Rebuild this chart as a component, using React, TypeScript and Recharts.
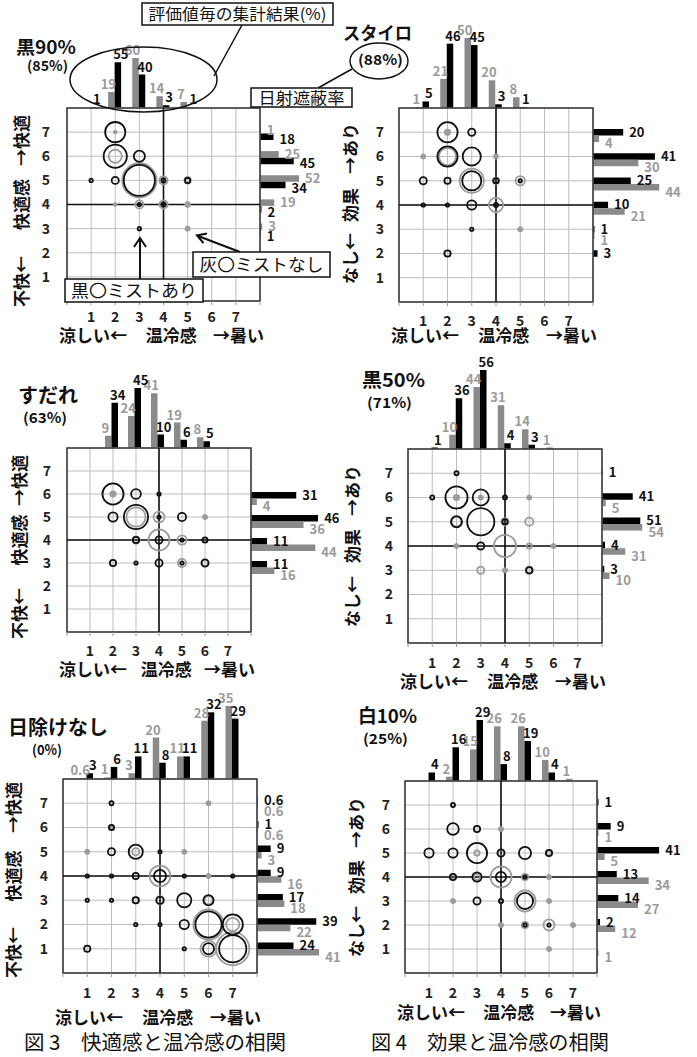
import React from 'react';
import {
  BarChart,
  Bar,
  XAxis,
  YAxis,
  ZAxis,
  ScatterChart,
  Scatter,
  CartesianGrid,
  ReferenceLine,
  ReferenceArea,
  LabelList,
} from 'recharts';

const FONT = "'Noto Sans CJK JP', 'Noto Sans', sans-serif";
const GRAY_BAR = '#8a8a8a';
const GRAY_TEXT = '#9a9a9a';
const GRAY_DOT = '#9c9c9c';

const LEVELS = [1, 2, 3, 4, 5, 6, 7];
const TICKS = [0, 1, 2, 3, 4, 5, 6, 7, 8];

// 温冷感の集計結果 (%), index = 評価値 1..7  (灰: ミストなし / 黒: ミストあり)
const k90TempGray = [0, 19, 60, 14, 7, 0, 0];
const k90TempBlack = [1, 55, 40, 3, 1, 0, 0];
const styroTempGray = [1, 21, 50, 20, 8, 0, 0];
const styroTempBlack = [5, 46, 45, 3, 1, 0, 0];
const sudareTempGray = [0, 9, 24, 41, 19, 8, 0];
const sudareTempBlack = [0, 34, 45, 10, 6, 5, 0];
const k50TempGray = [0, 10, 44, 31, 14, 1, 0];
const k50TempBlack = [1, 36, 56, 4, 3, 0, 0];
const noneTempGray = [0.6, 1, 3, 20, 11, 28, 35];
const noneTempBlack = [3, 6, 11, 8, 11, 32, 29];
const w10TempGray = [0, 2, 15, 26, 26, 10, 1];
const w10TempBlack = [4, 16, 29, 8, 19, 4, 0];

// 快適感 / 効果の集計結果 (%), index = 評価値 1..7
const k90RateGray = [0, 0, 3, 19, 52, 25, 1];
const k90RateBlack = [0, 0, 1, 2, 34, 45, 18];
const styroRateGray = [0, 0, 1, 21, 44, 30, 4];
const styroRateBlack = [0, 3, 1, 10, 25, 41, 20];
const sudareRateGray = [0, 0, 16, 44, 36, 4, 0];
const sudareRateBlack = [0, 0, 11, 11, 46, 31, 0];
const k50RateGray = [0, 0, 10, 31, 54, 5, 0];
const k50RateBlack = [0, 0, 3, 4, 51, 41, 1];
const noneRateGray = [41, 22, 18, 16, 3, 0.6, 0.6];
const noneRateBlack = [24, 39, 17, 9, 9, 1, 0.6];
const w10RateGray = [1, 12, 27, 34, 5, 1, 0];
const w10RateBlack = [0, 2, 14, 13, 41, 9, 1];

// 相関の円: [温冷感, 快適感(効果), %]
const k90BubBlack = [[1, 5, 0.7], [2, 7, 12.7], [2, 6, 16.4], [3, 6, 4.4], [2, 5, 2.1], [3, 5, 28.5], [4, 5, 0.9], [5, 5, 1.3], [3, 4, 0.7], [4, 4, 0.9], [3, 3, 0.7]];
const k90BubGray = [[2, 7, 0.4], [2, 6, 5.9], [3, 5, 34], [4, 5, 2.6], [5, 5, 1.7], [2, 4, 0.4], [3, 4, 2.6], [4, 4, 2.6], [5, 4, 0.9], [5, 3, 0.7]];
const styroBubBlack = [[2, 7, 12.7], [3, 7, 2.1], [2, 6, 12.7], [3, 6, 10.5], [1, 5, 2.1], [2, 5, 1.7], [3, 5, 11.5], [4, 5, 1.3], [5, 5, 0.7], [1, 4, 0.7], [2, 4, 0.7], [3, 4, 3.2], [4, 4, 0.9], [3, 3, 0.7], [2, 2, 1.7]];
const styroBubGray = [[2, 7, 1.1], [1, 6, 0.7], [2, 6, 9.5], [4, 6, 0.7], [3, 5, 17.7], [4, 5, 1.7], [5, 5, 3.2], [4, 4, 6.7], [5, 3, 0.7]];
const sudareBubBlack = [[2, 6, 13.8], [3, 6, 3.5], [4, 6, 0.7], [2, 5, 3.2], [3, 5, 17.7], [4, 5, 0.7], [5, 5, 2.6], [3, 4, 1.7], [4, 4, 2.1], [5, 4, 0.7], [6, 4, 1.3], [2, 3, 1.7], [3, 3, 0.7], [4, 3, 2.1], [5, 3, 0.7], [6, 3, 2.1]];
const sudareBubGray = [[2, 6, 1.1], [3, 5, 11.5], [4, 5, 4.2], [6, 5, 0.7], [3, 4, 2.1], [4, 4, 13.8], [5, 4, 3.2], [5, 3, 2.6], [6, 3, 1.7]];
const k50BubBlack = [[2, 7, 0.9], [1, 6, 0.9], [2, 6, 15], [3, 6, 8.5], [4, 6, 0.9], [2, 5, 4.4], [3, 5, 22], [4, 5, 1.3], [3, 4, 2.1], [5, 3, 1.7]];
const k50BubGray = [[2, 6, 1.1], [3, 6, 0.7], [5, 6, 0.7], [2, 5, 3.2], [4, 5, 2.1], [5, 5, 2.6], [2, 4, 0.7], [4, 4, 15], [5, 4, 1.3], [6, 4, 0.7], [3, 3, 2.1], [4, 3, 0.7], [5, 3, 2.1]];
const noneBubBlack = [[2, 7, 0.9], [2, 6, 1.3], [2, 5, 2.1], [3, 5, 6.7], [4, 5, 0.7], [1, 4, 0.7], [2, 4, 0.7], [3, 4, 1.7], [4, 4, 5.1], [5, 4, 0.7], [7, 4, 0.7], [1, 3, 0.7], [2, 3, 0.7], [3, 3, 1.7], [4, 3, 2.1], [5, 3, 6.7], [6, 3, 3.8], [3, 2, 0.7], [4, 2, 0.7], [5, 2, 3.2], [6, 2, 20.5], [7, 2, 12.7], [1, 1, 1.7], [5, 1, 0.7], [6, 1, 4.4], [7, 1, 22]];
const noneBubGray = [[6, 7, 0.7], [2, 6, 0.9], [1, 5, 0.7], [3, 5, 2.1], [5, 5, 0.7], [4, 4, 13.4], [6, 4, 0.7], [3, 3, 1.7], [4, 3, 2.6], [6, 3, 2.6], [6, 2, 26.8], [7, 2, 5.9], [6, 1, 8.5], [7, 1, 32]];
const w10BubBlack = [[2, 7, 0.9], [2, 6, 4.7], [3, 6, 1.7], [1, 5, 3.2], [2, 5, 3.2], [3, 5, 12.7], [4, 5, 2.1], [5, 5, 5.1], [6, 5, 1.7], [2, 4, 1.7], [3, 4, 3.2], [4, 4, 3.8], [5, 4, 0.7], [3, 3, 2.1], [4, 3, 0.9], [5, 3, 8.5], [5, 2, 0.7], [6, 2, 0.7]];
const w10BubGray = [[4, 6, 0.7], [3, 5, 1.3], [4, 5, 1.7], [6, 5, 1.3], [2, 4, 1.3], [3, 4, 1.7], [4, 4, 13.8], [5, 4, 1.7], [6, 4, 0.7], [2, 3, 0.7], [4, 3, 0.7], [5, 3, 13.8], [6, 3, 0.7], [4, 2, 0.7], [5, 2, 1.7], [6, 2, 4.4], [7, 2, 0.7], [6, 1, 0.7]];

type PanelDef = {
  name: string;
  rate: string;
  yLow: string;
  yMid: string;
  yHigh: string;
  tempGray: number[];
  tempBlack: number[];
  rateGray: number[];
  rateBlack: number[];
  bubBlack: number[][];
  bubGray: number[][];
  grayFirst: boolean;
  // layout
  left: number;
  top: number;
  size: number;
  topScale: number;
  rightScale: number;
  rightShift: number;
  xTickGap: number;
  xTitleDy: number;
  yTickGap: number;
  yTitleX: number;
  yTopInset: number;
  yBottomInset: number;
  nameX: number;
  nameY: number;
  nameSize: number;
  nameLen: number;
  rateX: number;
  rateY: number;
  rateLen: number;
};

const PANELS: PanelDef[] = [
  {
    name: '黒90%', rate: '(85%)', yLow: '不快←', yMid: '快適感', yHigh: '→快適',
    tempGray: k90TempGray, tempBlack: k90TempBlack, rateGray: k90RateGray, rateBlack: k90RateBlack,
    bubBlack: k90BubBlack, bubGray: k90BubGray, grayFirst: true,
    left: 67, top: 108, size: 193, topScale: 0.83, rightScale: 0.75, rightShift: 1,
    xTickGap: 16, xTitleDy: 41, yTickGap: 17, yTitleX: 22, yTopInset: 7, yBottomInset: -6,
    nameX: 16, nameY: 54, nameSize: 18, nameLen: 60, rateX: 27, rateY: 71, rateLen: 41,
  },
  {
    name: 'スタイロ', rate: '(88%)', yLow: 'なし←', yMid: '効果', yHigh: '→あり',
    tempGray: styroTempGray, tempBlack: styroTempBlack, rateGray: styroRateGray, rateBlack: styroRateBlack,
    bubBlack: styroBubBlack, bubGray: styroBubGray, grayFirst: false,
    left: 399, top: 108, size: 194, topScale: 1.41, rightScale: 1.51, rightShift: 2.5,
    xTickGap: 19, xTitleDy: 40, yTickGap: 15, yTitleX: 351, yTopInset: 15, yBottomInset: 18,
    nameX: 343, nameY: 40, nameSize: 18, nameLen: 69, rateX: 358, rateY: 65, rateLen: 45,
  },
  {
    name: 'すだれ', rate: '(63%)', yLow: '不快←', yMid: '快適感', yHigh: '→快適',
    tempGray: sudareTempGray, tempBlack: sudareTempBlack, rateGray: sudareRateGray, rateBlack: sudareRateBlack,
    bubBlack: sudareBubBlack, bubGray: sudareBubGray, grayFirst: false,
    left: 67, top: 448, size: 184, topScale: 1.33, rightScale: 1.46, rightShift: 4,
    xTickGap: 19, xTitleDy: 44, yTickGap: 16, yTitleX: 20, yTopInset: 7, yBottomInset: -7,
    nameX: 18, nameY: 403, nameSize: 20, nameLen: 60, rateX: 23, rateY: 423, rateLen: 44,
  },
  {
    name: '黒50%', rate: '(71%)', yLow: 'なし←', yMid: '効果', yHigh: '→あり',
    tempGray: k50TempGray, tempBlack: k50TempBlack, rateGray: k50RateGray, rateBlack: k50RateBlack,
    bubBlack: k50BubBlack, bubGray: k50BubGray, grayFirst: false,
    left: 408, top: 449, size: 194, topScale: 1.41, rightScale: 0.75, rightShift: 2,
    xTickGap: 20, xTitleDy: 45, yTickGap: 15, yTitleX: 353, yTopInset: 16, yBottomInset: 16,
    nameX: 362, nameY: 387, nameSize: 19, nameLen: 63, rateX: 367, rateY: 408, rateLen: 45,
  },
  {
    name: '日除けなし', rate: '(0%)', yLow: '不快←', yMid: '快適感', yHigh: '→快適',
    tempGray: noneTempGray, tempBlack: noneTempBlack, rateGray: noneRateGray, rateBlack: noneRateBlack,
    bubBlack: noneBubBlack, bubGray: noneBubGray, grayFirst: false,
    left: 63, top: 779, size: 194, topScale: 2.1, rightScale: 1.52, rightShift: 0,
    xTickGap: 20, xTitleDy: 51, yTickGap: 15, yTitleX: 14, yTopInset: 3, yBottomInset: -5,
    nameX: 8, nameY: 735, nameSize: 20, nameLen: 100, rateX: 32, rateY: 755, rateLen: 30,
  },
  {
    name: '白10%', rate: '(25%)', yLow: 'なし←', yMid: '効果', yHigh: '→あり',
    tempGray: w10TempGray, tempBlack: w10TempBlack, rateGray: w10RateGray, rateBlack: w10RateBlack,
    bubBlack: w10BubBlack, bubGray: w10BubGray, grayFirst: false,
    left: 405, top: 781, size: 192, topScale: 2.1, rightScale: 1.52, rightShift: 0,
    xTickGap: 20, xTitleDy: 46, yTickGap: 15, yTitleX: 357, yTopInset: 16, yBottomInset: 16,
    nameX: 358, nameY: 723, nameSize: 19, nameLen: 59, rateX: 363, rateY: 744, rateLen: 45,
  },
];

const tickText = (v: number) => (v >= 1 && v <= 7 ? String(v) : '');

const ring = (color: string, solidSmall: boolean) => (props: any) => {
  const r = props.width ? props.width / 2 : Math.sqrt((props.size || 0) / Math.PI);
  if (!r) return <g />;
  if (r < 3.3 && solidSmall) {
    return <circle cx={props.cx} cy={props.cy} r={r} fill={color} stroke={color} strokeWidth={0.8} />;
  }
  return <circle cx={props.cx} cy={props.cy} r={Math.max(r - 0.9, 1)} fill="none" stroke={color} strokeWidth={1.8} />;
};

const topLabel = (color: string, dx: number) => (props: any) => {
  const { x, y, width, value } = props;
  if (!value) return null;
  return (
    <text x={Number(x) + Number(width) / 2 + dx} y={Number(y) - 3} textAnchor="middle" fontSize={13} fontWeight={700} fill={color} fontFamily={FONT}>
      {value}
    </text>
  );
};

const rightLabel = (color: string, dy: number) => (props: any) => {
  const { x, y, width, height, value } = props;
  if (!value) return null;
  return (
    <text x={Number(x) + Number(width) + 6} y={Number(y) + Number(height) / 2 + 4.5 + dy} textAnchor="start" fontSize={13} fontWeight={700} fill={color} fontFamily={FONT}>
      {value}
    </text>
  );
};

function Panel({ p }: { p: PanelDef }) {
  const step = p.size / 8;
  const topData = LEVELS.map((lv, i) => ({ level: lv, gray: p.tempGray[i], black: p.tempBlack[i] }));
  const topMax = Math.max(...p.tempGray, ...p.tempBlack);
  const topH = topMax * p.topScale;
  const rightData = [...LEVELS].reverse().map((lv) => ({ level: lv, gray: p.rateGray[lv - 1], black: p.rateBlack[lv - 1] }));
  const rightMax = Math.max(...p.rateGray, ...p.rateBlack);
  const rightW = rightMax * p.rightScale;
  const toPts = (arr: number[][]) => arr.map(([x, y, z]) => ({ x, y, z }));
  const axisW = 34;
  const side = 16;
  const pad = 12;

  const grayBarTop = <Bar key="g" dataKey="gray" fill={GRAY_BAR} isAnimationActive={false}><LabelList dataKey="gray" content={topLabel(GRAY_TEXT, -3)} /></Bar>;
  const blackBarTop = <Bar key="b" dataKey="black" fill="#000" isAnimationActive={false}><LabelList dataKey="black" content={topLabel('#111', 3)} /></Bar>;

  const rightGray = (dy: number) => <Bar key="g" dataKey="gray" fill={GRAY_BAR} isAnimationActive={false}><LabelList dataKey="gray" content={rightLabel(GRAY_TEXT, dy)} /></Bar>;
  const rightBlack = (dy: number) => <Bar key="b" dataKey="black" fill="#000" isAnimationActive={false}><LabelList dataKey="black" content={rightLabel('#111', dy)} /></Bar>;

  return (
    <>
      {/* 上: 温冷感の集計 */}
      <div style={{ position: 'absolute', left: p.left + step / 2 - 1.5 - side, top: p.top - topH - 20 }}>
        <BarChart width={7 * step + 2 * side} height={topH + 20} data={topData} margin={{ top: 20, right: side, left: side, bottom: 0 }} barSize={6.5} barGap={0}>
          <XAxis dataKey="level" type="category" hide />
          <YAxis type="number" domain={[0, topMax]} hide allowDataOverflow />
          {grayBarTop}
          {blackBarTop}
        </BarChart>
      </div>

      {/* 右: 快適感 / 効果の集計 */}
      <div style={{ position: 'absolute', left: p.left + p.size, top: p.top + step / 2 + p.rightShift - pad }}>
        <BarChart layout="vertical" width={rightW + 40} height={7 * step + 2 * pad} data={rightData} margin={{ top: pad, right: 40, left: 0, bottom: pad }} barSize={6.5} barGap={0}>
          <XAxis type="number" domain={[0, rightMax]} hide allowDataOverflow />
          <YAxis type="category" dataKey="level" hide />
          {p.grayFirst ? [rightGray(0), rightBlack(3)] : [rightBlack(0), rightGray(5)]}
        </BarChart>
      </div>

      {/* 相関の円 */}
      <div style={{ position: 'absolute', left: p.left - axisW, top: p.top - 2 }}>
        <ScatterChart width={axisW + p.size + 4} height={p.size + 2 + 30} margin={{ top: 2, right: 4, left: 0, bottom: 0 }}>
          <CartesianGrid stroke="#bdbdbd" strokeWidth={1} />
          <XAxis
            type="number"
            dataKey="x"
            domain={[0, 8]}
            ticks={TICKS}
            interval={0}
            tickFormatter={tickText}
            axisLine={false}
            tickSize={4}
            tickLine={{ stroke: '#999' }}
            tickMargin={p.xTickGap - 9}
            height={30}
            tick={{ fontSize: 14, fontWeight: 700, fill: '#222', fontFamily: FONT }}
          />
          <YAxis
            type="number"
            dataKey="y"
            domain={[0, 8]}
            ticks={TICKS}
            interval={0}
            tickFormatter={tickText}
            axisLine={false}
            tickLine={false}
            tickSize={0}
            tickMargin={p.yTickGap}
            width={axisW}
            tick={{ fontSize: 14, fontWeight: 700, fill: '#222', fontFamily: FONT }}
          />
          <ZAxis type="number" dataKey="z" domain={[0, 40]} range={[0, 1200]} />
          <ReferenceArea x1={0} x2={8} y1={0} y2={8} fill="none" stroke="#333" strokeWidth={1.5} />
          <ReferenceLine x={4} stroke="#111" strokeWidth={1.6} />
          <ReferenceLine y={4} stroke="#111" strokeWidth={1.6} />
          <Scatter data={toPts(p.bubGray)} shape={ring(GRAY_DOT, true)} isAnimationActive={false} />
          <Scatter data={toPts(p.bubBlack)} shape={ring('#111', false)} isAnimationActive={false} />
        </ScatterChart>
      </div>
    </>
  );
}

function PanelText({ p }: { p: PanelDef }) {
  const right = p.left + p.size;
  const bottom = p.top + p.size;
  const cy = p.top + p.size / 2;
  const half = p.size / 2;
  return (
    <g fontFamily={FONT} fontWeight={700} fill="#111">
      <text x={p.nameX} y={p.nameY} fontSize={p.nameSize} textLength={p.nameLen} lengthAdjust="spacingAndGlyphs">{p.name}</text>
      <text x={p.rateX} y={p.rateY} fontSize={14} textLength={p.rateLen} lengthAdjust="spacingAndGlyphs">{p.rate}</text>
      {/* 横軸タイトル */}
      <text x={p.left - 8} y={bottom + p.xTitleDy} fontSize={17}>涼しい←</text>
      <text x={p.left + p.size * 0.54} y={bottom + p.xTitleDy} fontSize={17} textAnchor="middle">温冷感</text>
      <text x={right + 4} y={bottom + p.xTitleDy} fontSize={17} textAnchor="end">→暑い</text>
      {/* 縦軸タイトル */}
      <g transform={`translate(${p.yTitleX + 6}, ${cy}) rotate(-90)`}>
        <text x={-half + p.yBottomInset} y={0} fontSize={17}>{p.yLow}</text>
        <text x={0} y={0} fontSize={17} textAnchor="middle">{p.yMid}</text>
        <text x={half - p.yTopInset} y={0} fontSize={17} textAnchor="end">{p.yHigh}</text>
      </g>
    </g>
  );
}

function Notes() {
  return (
    <g fontFamily={FONT} fill="#111">
      <ellipse cx={143.5} cy={79.5} rx={73.5} ry={32.5} fill="none" stroke="#111" strokeWidth={1.5} />
      <line x1={242} y1={25} x2={214} y2={76} stroke="#111" strokeWidth={1.5} />
      <rect x={142} y={3} width={191} height={22} fill="#fff" stroke="#111" strokeWidth={1.5} />
      <text x={237.5} y={20} fontSize={16} textAnchor="middle" textLength={178} lengthAdjust="spacingAndGlyphs">評価値毎の集計結果(%)</text>

      <ellipse cx={379} cy={61} rx={29} ry={18} fill="none" stroke="#111" strokeWidth={1.5} />
      <line x1={318} y1={88} x2={352} y2={69} stroke="#111" strokeWidth={1.5} />
      <rect x={251} y={88} width={101} height={19} fill="#fff" stroke="#111" strokeWidth={1.5} />
      <text x={301.5} y={103.5} fontSize={16} textAnchor="middle" textLength={86} lengthAdjust="spacingAndGlyphs">日射遮蔽率</text>

      <line x1={240} y1={252} x2={198} y2={236} stroke="#111" strokeWidth={2} />
      <polyline points="203.5,243 197,235.5 207,233.5" fill="none" stroke="#111" strokeWidth={2} />
      <rect x={193} y={252} width={137} height={25} fill="#fff" stroke="#111" strokeWidth={1.5} />
      <text x={261.5} y={271} fontSize={17} textAnchor="middle" textLength={124} lengthAdjust="spacingAndGlyphs">灰〇ミストなし</text>

      <line x1={140} y1={279} x2={140} y2={239} stroke="#111" strokeWidth={2} />
      <polyline points="134,247 140,238 146,247" fill="none" stroke="#111" strokeWidth={2} />
      <rect x={65} y={279} width={138} height={23} fill="#fff" stroke="#111" strokeWidth={1.5} />
      <text x={134} y={297} fontSize={17} textAnchor="middle" textLength={126} lengthAdjust="spacingAndGlyphs">黒〇ミストあり</text>

      <text x={24} y={1050} fontSize={20} textLength={262} lengthAdjust="spacingAndGlyphs">図 3　快適感と温冷感の相関</text>
      <text x={371} y={1050} fontSize={20} textLength={238} lengthAdjust="spacingAndGlyphs">図 4　効果と温冷感の相関</text>
    </g>
  );
}

export default function App() {
  return (
    <div style={{ position: 'absolute', left: 0, top: 0, width: 697, height: 1057, background: '#fff', fontFamily: FONT, overflow: 'hidden' }}>
      {PANELS.map((p) => (
        <Panel key={p.name} p={p} />
      ))}
      <svg width={697} height={1057} style={{ position: 'absolute', left: 0, top: 0, pointerEvents: 'none' }}>
        {PANELS.map((p) => (
          <PanelText key={p.name} p={p} />
        ))}
        <Notes />
      </svg>
    </div>
  );
}
